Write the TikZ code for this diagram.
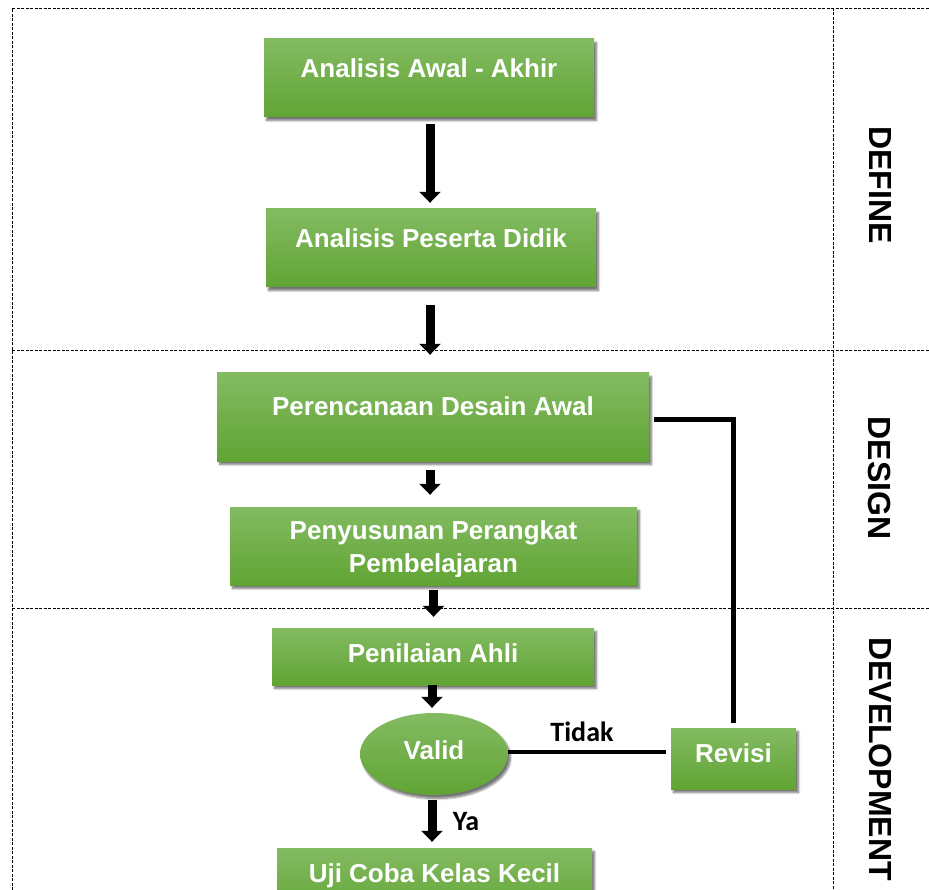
\documentclass[tikz,border=0pt]{standalone}
\usepackage{fontspec}
\setmainfont{Liberation Sans}
\newfontfamily\calib{Carlito}
\usetikzlibrary{shadows.blur,arrows.meta,calc,shapes.geometric}
\definecolor{gtop}{RGB}{131,187,98}
\definecolor{gbot}{RGB}{97,164,52}
\tikzset{
 box/.style={draw=none, top color=gtop, bottom color=gbot, inner sep=0pt,
   blur shadow={shadow xshift=2.5pt, shadow yshift=-3.5pt, shadow blur steps=6, shadow opacity=55}},
 boxtext/.style={text=white, font=\bfseries\fontsize{26}{33}\selectfont, align=center, inner sep=0pt},
 blockarrow/.style={line width=9pt, black, -{Triangle[width=21pt,length=11pt]}},
 phase/.style={font=\bfseries\fontsize{32}{32}\selectfont, rotate=-90, inner sep=0pt},
 sep/.style={black, line width=0.9pt, dash pattern=on 3pt off 1.5pt},
 link/.style={line width=5pt, black},
 ans/.style={font=\calib\bfseries\fontsize{28}{28}\selectfont, inner sep=0pt},
}
\begin{document}
\begin{tikzpicture}[x=1pt,y=-1pt]
\useasboundingbox (0,0) rectangle (929,890);
% frame
\draw[sep] (12,890) -- (12,8) -- (929,8);
\draw[sep] (833,8) -- (833,890);
\draw[sep] (12,350) -- (929,350);
\draw[sep] (12,608) -- (929,608);
% phase labels
\node[phase] (pdef) at (880,185) {DEFINE};
\node[phase] (pdes) at (880,478) {DESIGN};
\node[phase] (pdev) at (881,759) {DEVELOPMENT};
% boxes
\node[box, minimum width=330pt, minimum height=78pt] (b1) at (429,78) {};
\node[boxtext, anchor=base] (t1) at (429,77.5) {Analisis Awal - Akhir};
\node[box, minimum width=330pt, minimum height=78pt] (b2) at (431,248) {};
\node[boxtext, anchor=base] (t2) at (431,247.5) {Analisis Peserta Didik};
\node[box, minimum width=432pt, minimum height=88pt] (b3) at (433,417) {};
\node[boxtext, anchor=base] (t3) at (433,415.5) {Perencanaan Desain Awal};
\node[box, minimum width=407pt, minimum height=78pt] (b4) at (433.5,546) {};
\begin{scope}
\clip (b4.north west) rectangle ([yshift=9pt]b4.south east);
\node[boxtext] (t4) at (433.5,549) {Penyusunan Perangkat\\Pembelajaran};
\end{scope}
\node[box, minimum width=322pt, minimum height=57pt] (b5) at (433,656.5) {};
\node[boxtext, anchor=base] (t5) at (433,662.5) {Penilaian Ahli};
\node[box, ellipse, minimum width=148pt, minimum height=82pt] (valid) at (434,754) {};
\node[boxtext, anchor=base] (tv) at (434,759.5) {Valid};
\node[box, minimum width=125pt, minimum height=61pt] (revisi) at (733.5,758.5) {};
\node[boxtext, anchor=base] (tr) at (733.5,762.5) {Revisi};
\node[box, minimum width=315pt, minimum height=70pt] (b8) at (434.5,883) {};
\node[boxtext, anchor=base] (t8) at (434.5,882.5) {Uji Coba Kelas Kecil};
% arrows
\draw[blockarrow, shorten <=7pt, shorten >=6pt] ([xshift=1pt]b1.south) -- ([xshift=1pt]b1.south |- b2.north);
\draw[blockarrow, shorten <=18pt, shorten >=18pt] ([xshift=-1pt]b2.south) -- ([xshift=-1pt]b2.south |- b3.north);
\draw[blockarrow, shorten <=9pt, shorten >=12pt] ([xshift=-3pt]b3.south) -- ([xshift=-3pt]b3.south |- b4.north);
\draw[blockarrow, shorten <=5pt, shorten >=11pt] (b4.south) -- (b4.south |- b5.north);
\draw[blockarrow, shorten >=5pt] ([xshift=-1pt]b5.south) -- ([xshift=-1pt]b5.south |- valid.north);
\draw[blockarrow, shorten <=5pt, shorten >=6pt] ([xshift=-2pt]valid.south) -- ([xshift=-2pt]valid.south |- b8.north);
% links
\draw[line width=4pt, shorten >=5pt] ([yshift=2pt]valid.east) -- ([yshift=2pt]valid.east -| revisi.west);
\draw[link] ([yshift=5pt]revisi.north) |- ([xshift=5pt,yshift=-2.5pt]b3.east);
% answers
\node[ans, anchor=base] (tidak) at (582,741) {Tidak};
\node[ans, anchor=base] (ya) at (466,830) {Ya};
\end{tikzpicture}
\end{document}
